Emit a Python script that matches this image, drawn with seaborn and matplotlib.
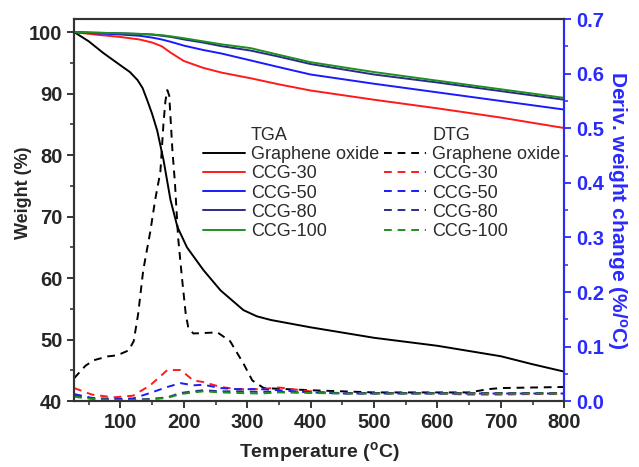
import numpy as np
import pandas as pd
import matplotlib
matplotlib.use("Agg")
import matplotlib.pyplot as plt
import matplotlib.ticker as mtick
from matplotlib.lines import Line2D
import seaborn as sns

# TGA curves (weight %, left axis)
temp_go = [27, 50, 73, 100, 115, 127, 135, 142, 150, 158, 168, 179, 190, 205, 231, 258, 294, 315, 337,
           400, 500, 600, 700, 750, 800]
tga_go = [100, 98.5, 96.6, 94.6, 93.5, 92.2, 90.9, 89.0, 86.7, 84.0, 79.2, 72.7, 68.3, 65.0, 61.3, 58.0,
          54.8, 53.8, 53.2, 52.0, 50.3, 49.0, 47.3, 46.0, 44.8]

temp_ccg = [27, 60, 100, 130, 150, 165, 180, 200, 230, 260, 305, 350, 400, 500, 600, 700, 800]
tga_ccg30 = [100, 99.6, 99.2, 98.8, 98.3, 97.7, 96.6, 95.3, 94.2, 93.4, 92.5, 91.5, 90.5, 89.0, 87.6, 86.1, 84.4]
tga_ccg50 = [100, 99.8, 99.6, 99.4, 99.1, 98.8, 98.4, 97.8, 97.1, 96.5, 95.4, 94.3, 93.1, 91.6, 90.2, 88.8, 87.4]
tga_ccg80 = [100, 99.9, 99.8, 99.7, 99.6, 99.4, 99.2, 98.8, 98.3, 97.7, 97.0, 96.0, 94.8, 93.1, 91.8, 90.4, 89.0]
tga_ccg100 = [100, 99.9, 99.8, 99.7, 99.6, 99.5, 99.3, 99.0, 98.5, 98.0, 97.4, 96.3, 95.1, 93.5, 92.1, 90.7, 89.3]

# DTG curves (%/degC, right axis)
temp_dtg_go = [27, 45, 58, 80, 95, 113, 121, 128, 136, 147, 155, 163, 168, 171, 174, 177, 179, 182, 186,
               191, 197, 203, 207, 215, 253, 273, 294, 308, 326, 400, 500, 600, 650, 680, 700, 800]
dtg_go = [0.042, 0.065, 0.075, 0.082, 0.084, 0.093, 0.11, 0.16, 0.24, 0.31, 0.37, 0.42, 0.51, 0.55, 0.57,
          0.56, 0.52, 0.46, 0.40, 0.30, 0.227, 0.16, 0.135, 0.124, 0.126, 0.11, 0.069, 0.038, 0.024, 0.020,
          0.016, 0.016, 0.016, 0.022, 0.024, 0.026]

temp_dtg = [27, 55, 89, 120, 147, 174, 195, 215, 231, 258, 284, 320, 350, 400, 450, 500, 550, 600, 650,
            700, 750, 800]
dtg_ccg30 = [0.024, 0.012, 0.007, 0.010, 0.029, 0.057, 0.057, 0.038, 0.035, 0.026, 0.022, 0.022, 0.025,
             0.018, 0.014, 0.014, 0.014, 0.014, 0.012, 0.012, 0.013, 0.013]
dtg_ccg50 = [0.013, 0.006, 0.004, 0.005, 0.015, 0.026, 0.033, 0.029, 0.030, 0.024, 0.022, 0.022, 0.020,
             0.016, 0.014, 0.014, 0.014, 0.014, 0.014, 0.014, 0.014, 0.014]
dtg_ccg80 = [0.011, 0.005, 0.003, 0.003, 0.004, 0.007, 0.015, 0.018, 0.020, 0.018, 0.018, 0.017, 0.017,
             0.016, 0.015, 0.015, 0.015, 0.015, 0.015, 0.015, 0.015, 0.015]
dtg_ccg100 = [0.008, 0.004, 0.002, 0.002, 0.003, 0.006, 0.013, 0.016, 0.018, 0.016, 0.015, 0.014, 0.016,
              0.015, 0.014, 0.014, 0.014, 0.014, 0.014, 0.014, 0.014, 0.014]

series_names = ["Graphene oxide", "CCG-30", "CCG-50", "CCG-80", "CCG-100"]
colors = ["#000000", "#ff1a1a", "#1a1aff", "#2b2b8c", "#1f8f1f"]

sns.set_style("ticks")
plt.rcParams["font.family"] = ["Liberation Sans", "DejaVu Sans"]
plt.rcParams["mathtext.fontset"] = "custom"
plt.rcParams["mathtext.rm"] = "Liberation Sans:bold"
plt.rcParams["mathtext.it"] = "Liberation Sans:bold"
plt.rcParams["mathtext.default"] = "rm"
plt.rcParams["lines.dashed_pattern"] = [4, 3]

fig = plt.figure(figsize=(6.39, 4.67), dpi=100)
ax = fig.add_axes([0.116, 0.141, 0.767, 0.818])
ax2 = ax.twinx()

tga_x = [temp_go, temp_ccg, temp_ccg, temp_ccg, temp_ccg]
tga_y = [tga_go, tga_ccg30, tga_ccg50, tga_ccg80, tga_ccg100]
dtg_x = [temp_dtg_go, temp_dtg, temp_dtg, temp_dtg, temp_dtg]
dtg_y = [dtg_go, dtg_ccg30, dtg_ccg50, dtg_ccg80, dtg_ccg100]

for name, c, xs, ys in zip(series_names, colors, tga_x, tga_y):
    sns.lineplot(x=xs, y=ys, ax=ax, color=c, lw=1.4, label=name, legend=False)
for name, c, xs, ys in zip(series_names, colors, dtg_x, dtg_y):
    sns.lineplot(x=xs, y=ys, ax=ax2, color=c, lw=1.4, linestyle="--", label=name, legend=False)

ax.set_xlim(27, 800)
ax.set_ylim(40, 102.1)
ax2.set_ylim(0, 0.7)

ax.xaxis.set_major_locator(mtick.MultipleLocator(100))
ax.xaxis.set_minor_locator(mtick.MultipleLocator(50))
ax.yaxis.set_major_locator(mtick.MultipleLocator(10))
ax.yaxis.set_minor_locator(mtick.MultipleLocator(5))
ax2.yaxis.set_major_locator(mtick.MultipleLocator(0.1))
ax2.yaxis.set_minor_locator(mtick.MultipleLocator(0.05))
ax2.yaxis.set_major_formatter(mtick.FormatStrFormatter("%.1f"))

blue = "#2a2aff"
for a in (ax, ax2):
    for s in a.spines.values():
        s.set_linewidth(1.5)
        s.set_color("#333333")
ax2.spines["right"].set_color(blue)
ax.tick_params(axis="both", which="major", direction="out", length=5, width=1.3, labelsize=14.5)
ax.tick_params(axis="both", which="minor", direction="out", length=3, width=1.1)
ax2.tick_params(axis="y", which="major", direction="out", length=5, width=1.3, labelsize=14.5,
                colors=blue)
ax2.tick_params(axis="y", which="minor", direction="out", length=3, width=1.1, colors=blue)
for lab in ax.get_xticklabels() + ax.get_yticklabels():
    lab.set_fontweight("bold")
for lab in ax2.get_yticklabels():
    lab.set_fontweight("bold")

ax.set_xlabel(r"Temperature ($^{o}$C)", fontsize=14, fontweight="bold", labelpad=6)
ax.set_ylabel("Weight (%)", fontsize=13, fontweight="bold")
ax.yaxis.set_label_coords(-0.086, 0.546)
ax2.set_ylabel(r"Deriv. weight change (%/$^{o}$C)", fontsize=15, fontweight="bold", color=blue,
               rotation=270, labelpad=18)

tga_lines = ax.get_lines()
dtg_lines = ax2.get_lines()
blank = Line2D([], [], color="none")
handles = [blank] + list(tga_lines) + [blank] + list(dtg_lines)
labels = ["TGA"] + series_names + ["DTG"] + series_names
ax2.legend(handles, labels, ncol=2, loc="upper left", bbox_to_anchor=(203 / 639, 1 - 127 / 467),
           bbox_transform=fig.transFigure, frameon=False, fontsize=13, labelspacing=0.12,
           handlelength=2.33, handletextpad=0.33, columnspacing=0.28, borderpad=0, borderaxespad=0,
           labelcolor="#2a2a2a")

fig.savefig("out.png", dpi=100)
